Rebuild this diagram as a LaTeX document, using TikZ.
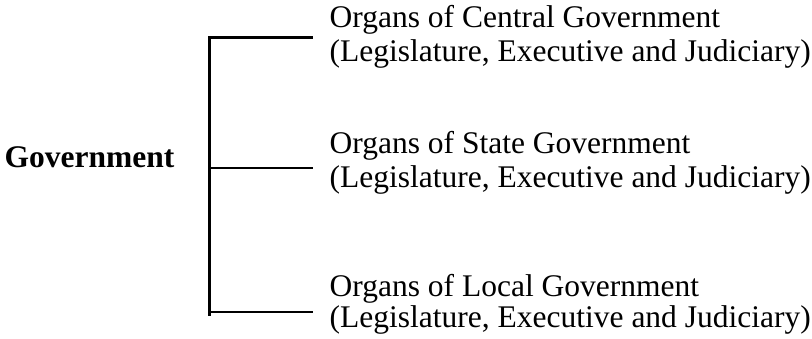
\documentclass[tikz,border=0pt]{standalone}
\usepackage{fontspec}
\setmainfont{Liberation Serif}
\usetikzlibrary{positioning}

\begin{document}
\begin{tikzpicture}[
    x=1pt, y=-1pt,
    every node/.style={font=\fontsize{31.5}{34}\selectfont, inner sep=0pt, anchor=base west},
    head/.style={font=\fontsize{31.5}{34}\selectfont\bfseries},
    organ/.style={},
    branch/.style={line width=2.6pt}
]
\useasboundingbox (0,0) rectangle (812,339);

% Root
\node[head] (gov) at (4.5,167.5) {Government};

% Spine and branch ends
\coordinate (spinetop) at (209.5,37.5);
\coordinate (spinemid) at (209.5,168);
\coordinate (spinelow) at (209.5,312);
\coordinate (spinebot) at (209.5,316.5);
\coordinate (endtop) at (312.7,37.5);
\coordinate (endmid) at (312.7,168);
\coordinate (endlow) at (312.7,312);

% Organs
\node[organ] (central) at (329.5,28) {Organs of Central Government};
\node[organ] (centralsub) at (329.5,61.5) {(Legislature, Executive and Judiciary)};

\node[organ] (state) at (329.5,153.5) {Organs of State Government};
\node[organ] (statesub) at (329.5,188) {(Legislature, Executive and Judiciary)};

\node[organ] (local) at (329.5,296.5) {Organs of Local Government};
\node[organ] (localsub) at (329.5,327) {(Legislature, Executive and Judiciary)};

% Lines
\draw[branch] (endtop) -- (spinetop) -- (spinebot);
\draw[branch] (spinemid) -- (endmid);
\draw[branch] (spinelow) -- (endlow);

\end{tikzpicture}
\end{document}
